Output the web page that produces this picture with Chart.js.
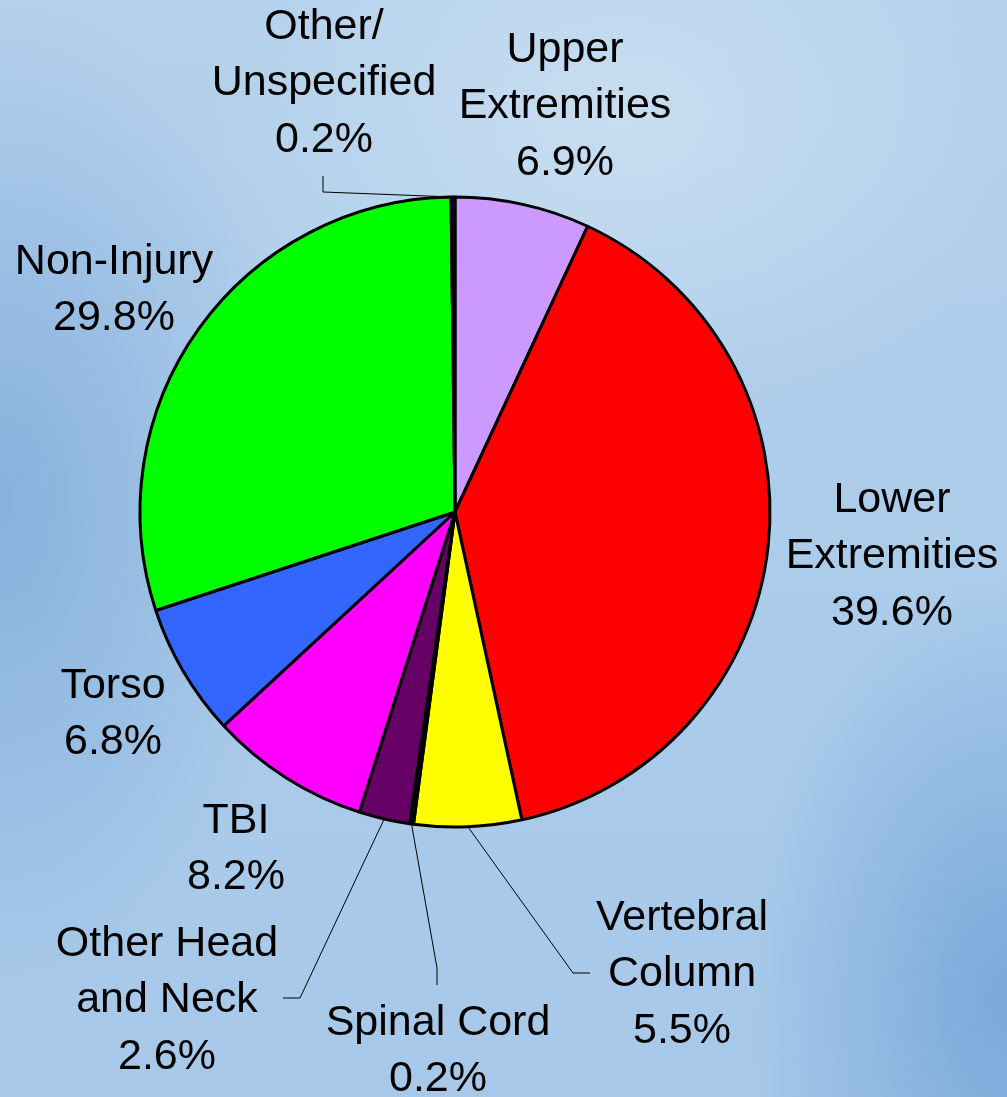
<!DOCTYPE html>
<html>
<head>
<meta charset="utf-8">
<script src="https://cdn.jsdelivr.net/npm/chart.js@4.4.0/dist/chart.umd.min.js"></script>
<style>
  html, body { margin: 0; padding: 0; }
  body {
    width: 1007px; height: 1097px; overflow: hidden;
    background:
      radial-gradient(ellipse 420px 300px at 620px 120px, rgba(205,225,242,0.8), rgba(205,225,242,0) 100%),
      radial-gradient(ellipse 300px 500px at 0px 500px, rgba(120,165,215,0.7), rgba(120,165,215,0) 100%),
      radial-gradient(ellipse 260px 420px at 1007px 1000px, rgba(110,160,215,0.8), rgba(110,160,215,0) 100%),
      linear-gradient(180deg, #b4d1ec 0%, #aacbea 60%, #a7c8e8 100%);
  }
  #wrap { position: absolute; left: 0; top: 0; width: 1007px; height: 1097px; }
</style>
</head>
<body>
<div id="wrap"><canvas id="pie" width="1007" height="1097"></canvas></div>
<script>
  // slices clockwise from 12 o'clock
  const categories = ['Upper Extremities', 'Lower Extremities', 'Vertebral Column', 'Spinal Cord',
    'Other Head and Neck', 'TBI', 'Torso', 'Non-Injury', 'Other/Unspecified'];
  const percents = [6.9, 39.6, 5.5, 0.2, 2.6, 8.2, 6.8, 29.8, 0.2];
  const labelLines = [
    ['Upper', 'Extremities', '6.9%'],
    ['Lower', 'Extremities', '39.6%'],
    ['Vertebral', 'Column', '5.5%'],
    ['Spinal Cord', '0.2%'],
    ['Other Head', 'and Neck', '2.6%'],
    ['TBI', '8.2%'],
    ['Torso', '6.8%'],
    ['Non-Injury', '29.8%'],
    ['Other/', 'Unspecified', '0.2%']
  ];
  const sliceColors = ['#CC99FF', '#FF0000', '#FFFF00', '#111111', '#660066',
    '#FF00FF', '#3366FF', '#00FF00', '#000080'];

  // label placement (center x, first line center y) and leader elbows
  const labelPos = [
    [565, 50], [892, 500], [682, 918], [438, 1023], [167, 944],
    [236, 821], [113, 686], [114, 262], [324, 27]
  ];
  const leaders = {
    2: [[573, 973], [590, 973]],
    3: [[437, 968], [437, 985]],
    4: [[300, 998], [283, 998]],
    8: [[323, 192], [323, 176]]
  };
  const lineGap = 56.5;

  const labelPlugin = {
    id: 'pieLabels',
    afterDraw(chart) {
      const ctx = chart.ctx;
      const arcs = chart.getDatasetMeta(0).data;
      ctx.save();
      ctx.strokeStyle = '#000';
      ctx.lineWidth = 1;
      Object.keys(leaders).forEach(k => {
        const a = arcs[k];
        const mid = (a.startAngle + a.endAngle) / 2;
        const sx = a.x + Math.cos(mid) * a.outerRadius;
        const sy = a.y + Math.sin(mid) * a.outerRadius;
        ctx.beginPath();
        ctx.moveTo(sx, sy);
        leaders[k].forEach(p => ctx.lineTo(p[0], p[1]));
        ctx.stroke();
      });
      ctx.fillStyle = '#000';
      ctx.font = '43px "Liberation Sans", Arial, sans-serif';
      ctx.textAlign = 'center';
      ctx.textBaseline = 'middle';
      labelLines.forEach((lines, i) => {
        const [x, y] = labelPos[i];
        lines.forEach((t, j) => {
          ctx.fillText(t, x, y + j * lineGap);
        });
      });
      ctx.restore();
    }
  };

  new Chart(document.getElementById('pie'), {
    type: 'pie',
    data: {
      labels: categories,
      datasets: [{
        data: percents,
        backgroundColor: sliceColors,
        borderColor: '#000',
        borderWidth: 3
      }]
    },
    options: {
      responsive: false,
      animation: false,
      radius: 315,
      layout: { padding: { left: 0, right: 97, top: 0, bottom: 73 } },
      plugins: { legend: { display: false }, tooltip: { enabled: false } }
    },
    plugins: [labelPlugin]
  });
</script>
</body>
</html>
